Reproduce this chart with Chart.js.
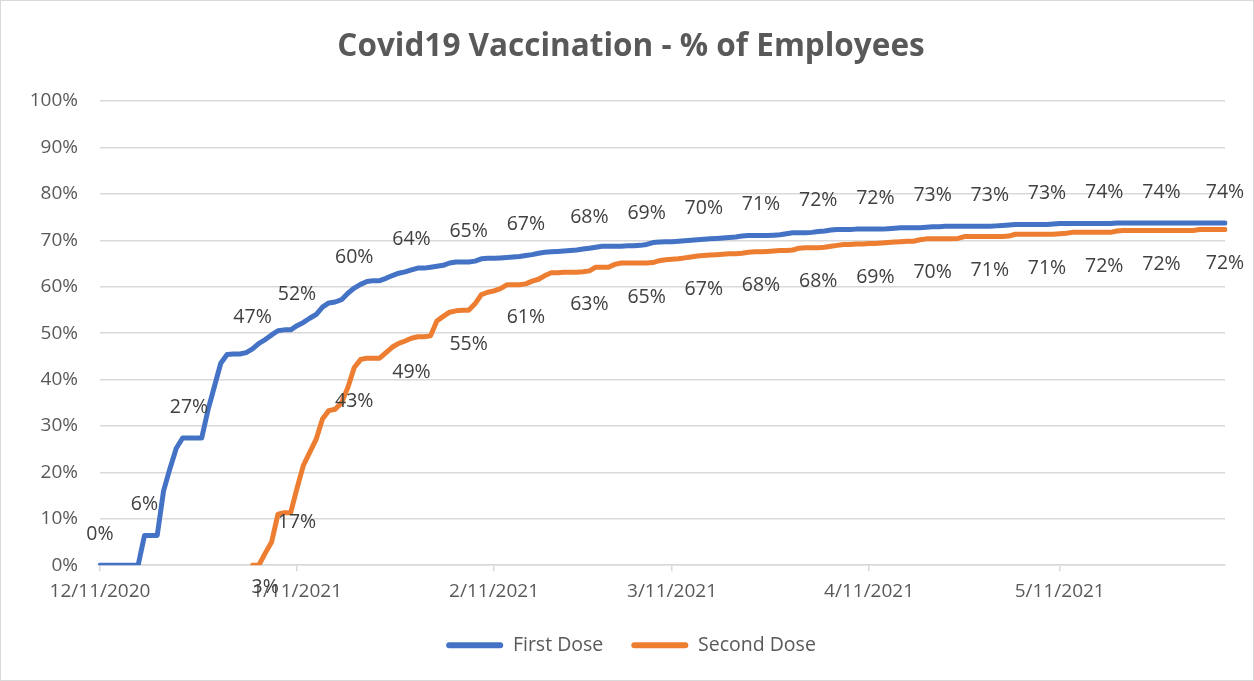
<!DOCTYPE html>
<html>
<head>
<meta charset="utf-8">
<script src="https://cdn.jsdelivr.net/npm/chart.js@4/dist/chart.umd.min.js"></script>
<style>
  html, body { margin: 0; padding: 0; background: #fff; }
  #wrap { width: 1254px; height: 681px; position: relative; }
</style>
</head>
<body>
<div id="wrap"><canvas id="vaxChart"></canvas></div>
<script>
// daily categories start here, one per calendar day
const startDate = [2020, 11, 11];
const dayCount = 178;

// x-axis tick labels (Excel shows one per month)
const tickDates = ['12/11/2020', '1/11/2021', '2/11/2021', '3/11/2021', '4/11/2021', '5/11/2021'];

// % of employees with a first dose, one value per day from 12/11/2020
const firstDose = [
  0, 0, 0, 0, 0, 0, 0, 6.4, 6.4, 6.4,
  16.0, 20.8, 25.2, 27.4, 27.4, 27.4, 27.4, 33.5, 38.5, 43.5,
  45.4, 45.5, 45.5, 45.8, 46.6, 47.8, 48.6, 49.6, 50.5, 50.7,
  50.7, 51.6, 52.3, 53.2, 54.0, 55.6, 56.5, 56.7, 57.2, 58.6,
  59.7, 60.5, 61.1, 61.3, 61.3, 61.8, 62.4, 62.9, 63.2, 63.6,
  64.0, 64.0, 64.2, 64.4, 64.6, 65.1, 65.3, 65.3, 65.3, 65.5,
  66.0, 66.1, 66.1, 66.2, 66.3, 66.4, 66.5, 66.7, 66.9, 67.2,
  67.4, 67.5, 67.6, 67.7, 67.8, 67.9, 68.1, 68.3, 68.5, 68.7,
  68.7, 68.7, 68.7, 68.8, 68.8, 68.9, 69.1, 69.5, 69.6, 69.7,
  69.7, 69.8, 69.9, 70.0, 70.1, 70.2, 70.3, 70.4, 70.5, 70.6,
  70.7, 70.9, 71.0, 71.0, 71.0, 71.0, 71.1, 71.2, 71.4, 71.6,
  71.6, 71.6, 71.7, 71.9, 72.0, 72.2, 72.3, 72.3, 72.3, 72.4,
  72.4, 72.4, 72.4, 72.4, 72.5, 72.6, 72.7, 72.7, 72.7, 72.7,
  72.8, 72.9, 72.9, 73.0, 73.0, 73.0, 73.0, 73.0, 73.0, 73.0,
  73.0, 73.1, 73.2, 73.3, 73.4, 73.4, 73.4, 73.4, 73.4, 73.4,
  73.5, 73.6, 73.6, 73.6, 73.6, 73.6, 73.6, 73.6, 73.6, 73.6,
  73.7, 73.7, 73.7, 73.7, 73.7, 73.7, 73.7, 73.7, 73.7, 73.7,
  73.7, 73.7, 73.7, 73.7, 73.7, 73.7, 73.7, 73.7
];

// % with a second dose (nothing before 1/4/2021)
const secondDose = [
  null, null, null, null, null, null, null, null, null, null,
  null, null, null, null, null, null, null, null, null, null,
  null, null, null, null, 0, 0, 2.6, 5.0, 11.0, 11.3,
  11.3, 16.6, 21.5, 24.3, 27.1, 31.5, 33.3, 33.6, 35.0, 38.3,
  42.6, 44.3, 44.6, 44.6, 44.6, 45.8, 47.0, 47.8, 48.3, 48.9,
  49.2, 49.2, 49.4, 52.6, 53.6, 54.5, 54.8, 54.9, 54.9, 56.3,
  58.3, 58.8, 59.1, 59.6, 60.4, 60.4, 60.4, 60.6, 61.2, 61.6,
  62.4, 63.0, 63.0, 63.1, 63.1, 63.1, 63.2, 63.4, 64.2, 64.2,
  64.2, 64.8, 65.1, 65.1, 65.1, 65.1, 65.1, 65.2, 65.6, 65.8,
  65.9, 66.0, 66.2, 66.4, 66.6, 66.7, 66.8, 66.9, 67.0, 67.1,
  67.1, 67.2, 67.4, 67.5, 67.5, 67.6, 67.7, 67.8, 67.8, 67.9,
  68.3, 68.4, 68.4, 68.4, 68.5, 68.7, 68.9, 69.1, 69.1, 69.2,
  69.2, 69.3, 69.3, 69.4, 69.5, 69.6, 69.7, 69.8, 69.8, 70.1,
  70.3, 70.3, 70.3, 70.3, 70.3, 70.4, 70.8, 70.8, 70.8, 70.8,
  70.8, 70.8, 70.8, 70.9, 71.3, 71.3, 71.3, 71.3, 71.3, 71.3,
  71.3, 71.4, 71.5, 71.7, 71.7, 71.7, 71.7, 71.7, 71.7, 71.7,
  72.0, 72.1, 72.1, 72.1, 72.1, 72.1, 72.1, 72.1, 72.1, 72.1,
  72.1, 72.1, 72.1, 72.3, 72.3, 72.3, 72.3, 72.3
];

// which days carry a data label
const firstLabelDays = [0, 7, 14, 24, 31, 40, 49, 58, 67, 77, 86, 95, 104, 113, 122, 131, 140, 149, 158, 167, 177];
const secondLabelDays = [26, 31, 40, 49, 58, 67, 77, 86, 95, 104, 113, 122, 131, 140, 149, 158, 167, 177];

const dayLabels = [];
for (let i = 0; i < dayCount; i++) {
  const d = new Date(Date.UTC(startDate[0], startDate[1], startDate[2] + i));
  dayLabels.push((d.getUTCMonth() + 1) + '/' + d.getUTCDate() + '/' + d.getUTCFullYear());
}

const FONT = "'Open Sans', 'Noto Sans', sans-serif";
const GRID = '#d9d9d9';
const TEXT = '#595959';

// white background + thin frame like the Excel chart object
const frame = {
  id: 'frame',
  beforeDraw(chart) {
    const c = chart.ctx;
    c.save();
    c.fillStyle = '#fff';
    c.fillRect(0, 0, chart.width, chart.height);
    c.strokeStyle = GRID;
    c.lineWidth = 1;
    c.strokeRect(0.5, 0.5, chart.width - 1, chart.height - 1);
    c.restore();
  }
};

// point labels: first dose above, second dose below
const pointLabels = {
  id: 'pointLabels',
  afterDatasetsDraw(chart) {
    const c = chart.ctx;
    c.save();
    c.font = '19.5px ' + FONT;
    c.fillStyle = '#404040';
    c.textAlign = 'center';
    c.textBaseline = 'middle';
    [[0, firstLabelDays, -31], [1, secondLabelDays, 34]].forEach(([ds, days, dy]) => {
      const meta = chart.getDatasetMeta(ds);
      const vals = chart.data.datasets[ds].data;
      days.forEach(i => {
        const pt = meta.data[i];
        if (!pt || vals[i] == null) return;
        c.fillText(Math.round(vals[i]) + '%', pt.x, pt.y + dy);
      });
    });
    c.restore();
  }
};

new Chart(document.getElementById('vaxChart'), {
  type: 'line',
  data: {
    labels: dayLabels,
    datasets: [
      { label: 'First Dose', data: firstDose, borderColor: '#4472c4', backgroundColor: '#4472c4' },
      { label: 'Second Dose', data: secondDose, borderColor: '#ed7d31', backgroundColor: '#ed7d31' }
    ]
  },
  options: {
    responsive: true,
    maintainAspectRatio: false,
    animation: false,
    layout: { padding: { left: 37, right: 29, top: 0, bottom: 16 } },
    elements: {
      point: { radius: 0, hoverRadius: 0 },
      line: { borderWidth: 5, tension: 0, borderCapStyle: 'round', borderJoinStyle: 'round', fill: false }
    },
    plugins: {
      tooltip: { enabled: false },
      title: {
        display: true,
        text: 'Covid19 Vaccination - % of Employees',
        color: TEXT,
        font: { family: FONT, size: 31.5, weight: 'bold' },
        padding: { top: 28, bottom: 35.2 }
      },
      legend: {
        position: 'bottom',
        labels: {
          color: TEXT,
          font: { family: FONT, size: 19.5 },
          boxWidth: 57,
          boxHeight: 6,
          padding: 28,
          useBorderRadius: true,
          borderRadius: 3,
          generateLabels: chart => Chart.defaults.plugins.legend.labels.generateLabels(chart)
            .map(l => Object.assign(l, { lineWidth: 0 }))
        }
      }
    },
    scales: {
      x: {
        type: 'category',
        offset: false,
        grid: { drawOnChartArea: false, drawTicks: true, tickLength: 6, color: GRID, lineWidth: 1.5 },
        border: { color: GRID, width: 1.5 },
        ticks: {
          autoSkip: false,
          maxRotation: 0,
          padding: 9,
          color: TEXT,
          font: { family: FONT, size: 19 },
          callback: function (v) { return this.getLabelForValue(v); }
        },
        afterBuildTicks: axis => {
          axis.ticks = axis.ticks.filter(t => tickDates.includes(dayLabels[t.value]));
        },
        afterFit: axis => { axis.height -= 4.5; }
      },
      y: {
        min: 0,
        max: 100,
        grid: { color: GRID, lineWidth: 1.5, drawTicks: false },
        border: { display: false },
        ticks: {
          stepSize: 10,
          padding: 22,
          color: TEXT,
          font: { family: FONT, size: 19 },
          callback: v => v + '%'
        },
        afterFit: axis => {
          axis.width = 63;
          // let "100%" spill into the left padding instead of being clipped
          axis._computeLabelArea = () => undefined;
        }
      }
    }
  },
  plugins: [frame, pointLabels]
});
</script>
</body>
</html>
